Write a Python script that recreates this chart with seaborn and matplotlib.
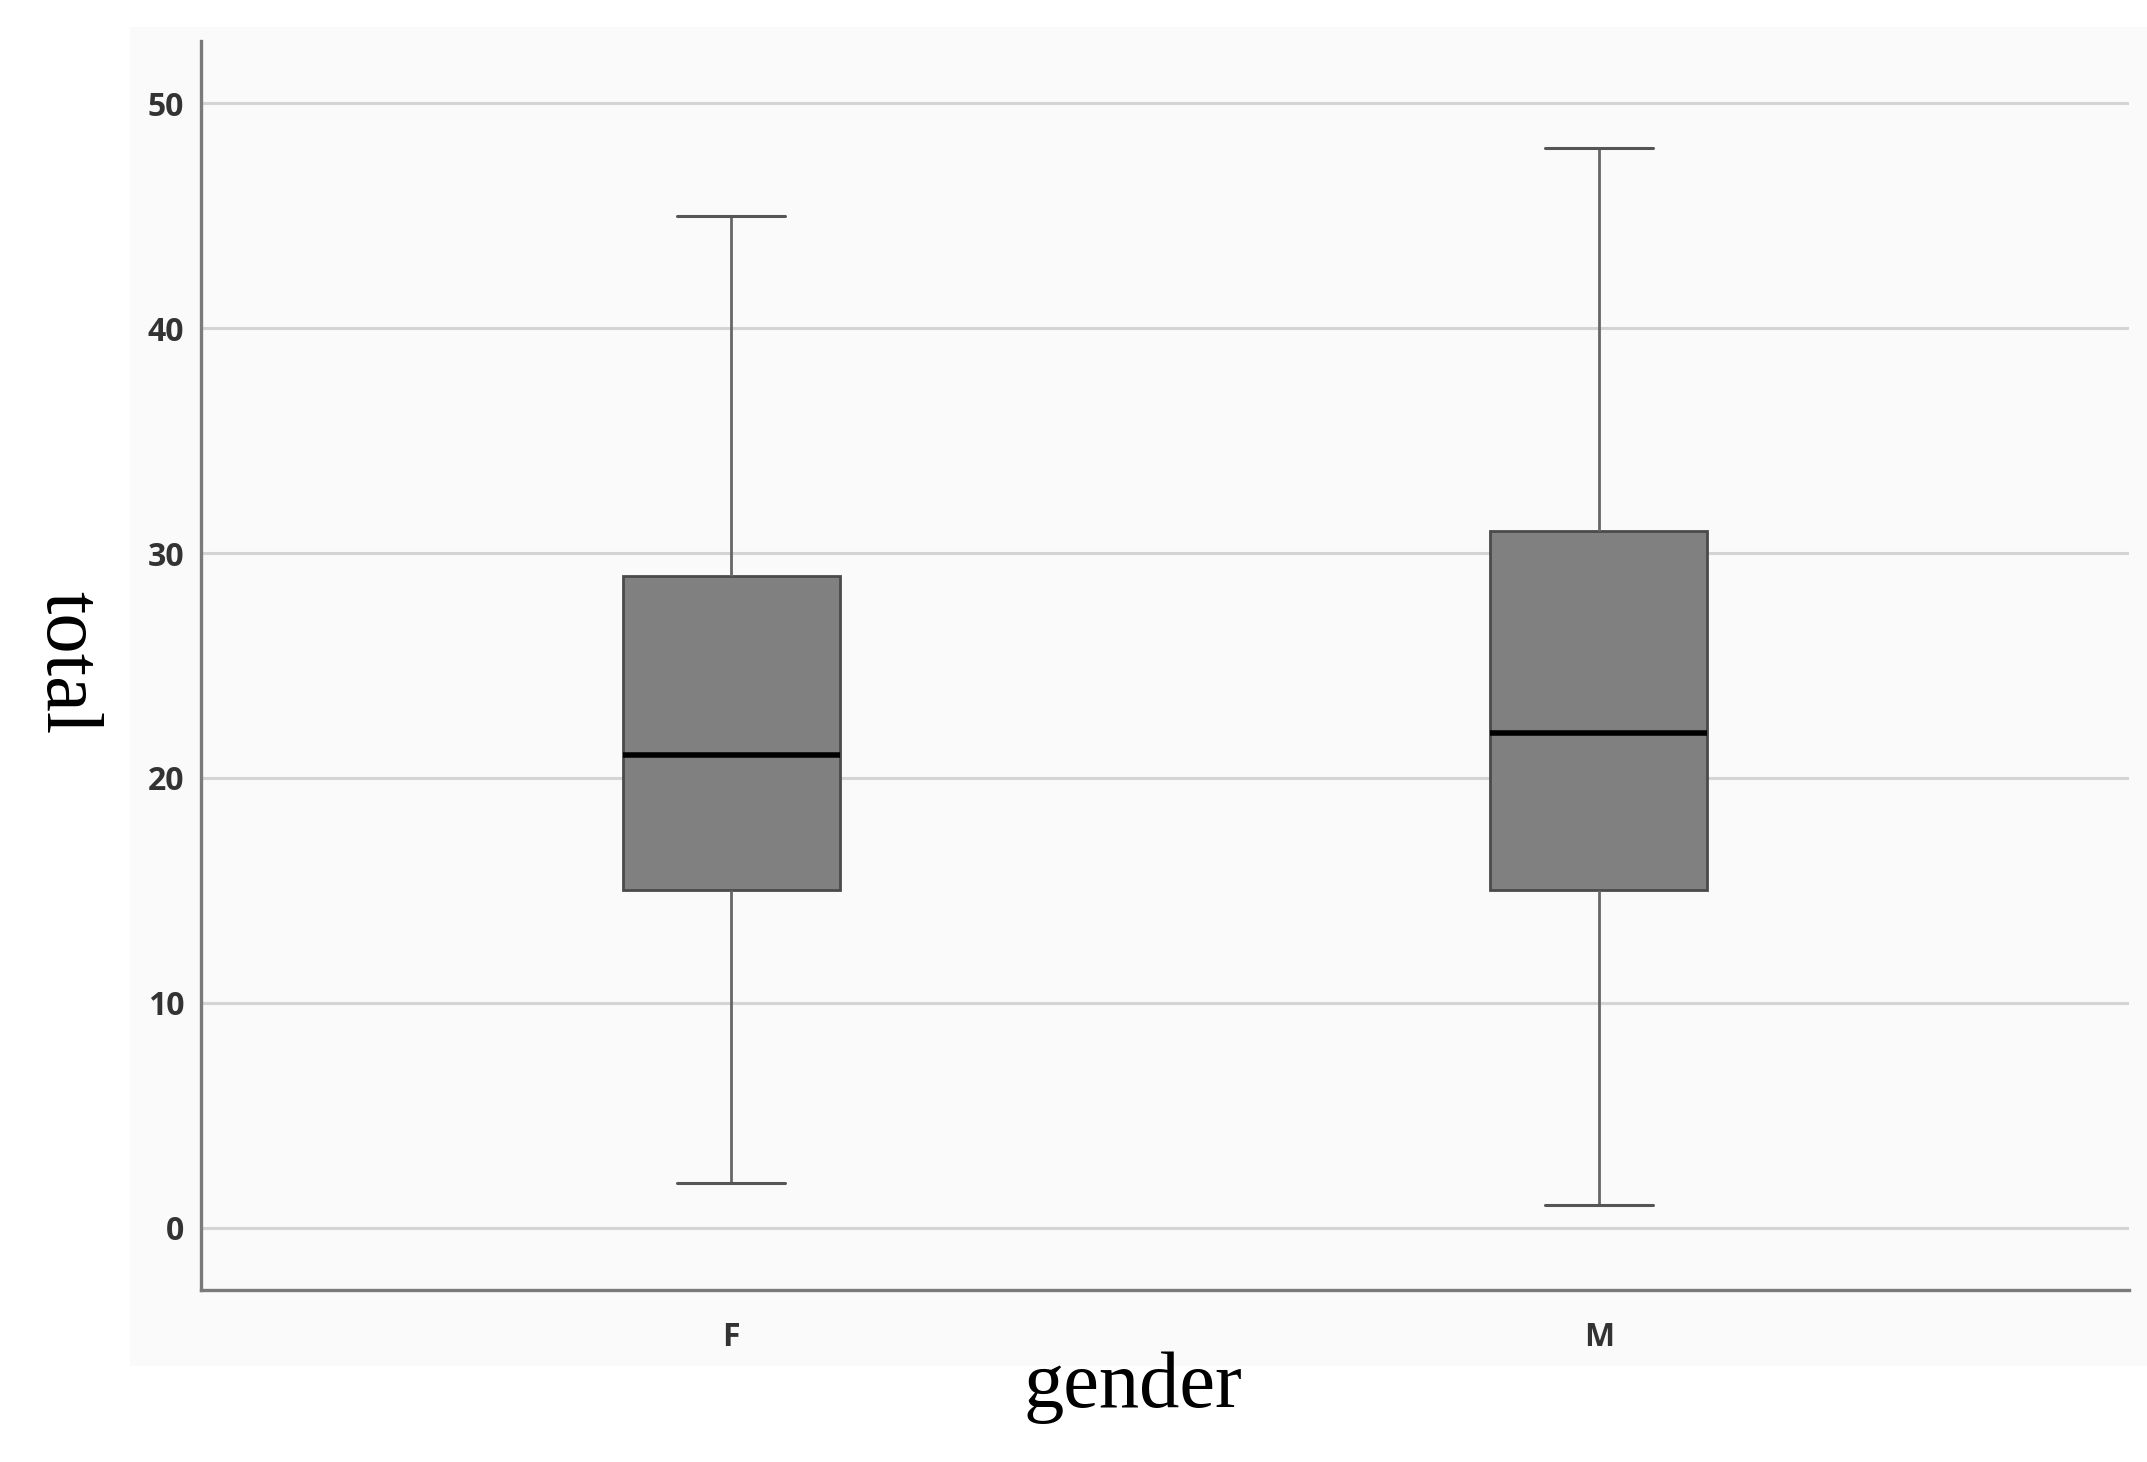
import matplotlib
matplotlib.use("Agg")
import matplotlib.pyplot as plt
import seaborn as sns
import pandas as pd
from matplotlib.patches import Rectangle

# Data: five-number summaries (min, Q1, median, Q3, max)
genders = ["F", "M"]
total_F = [2, 15, 21, 29, 45]
total_M = [1, 15, 22, 31, 48]
y_ticks = [0, 10, 20, 30, 40, 50]

df = pd.DataFrame({
    "gender": ["F"] * len(total_F) + ["M"] * len(total_M),
    "total": total_F + total_M,
})

sns.set_style("white")

W, H = 2147, 1462
fig = plt.figure(figsize=(W / 100, H / 100), dpi=100)
fig.patch.set_facecolor("white")
# light panel behind the chart
panel = Rectangle((130 / W, 1 - 1366 / H), (W - 130) / W, (1366 - 27) / H,
                  transform=fig.transFigure, facecolor="#fafafa",
                  edgecolor="none", zorder=-10)
fig.add_artist(panel)

ax = fig.add_axes([201 / W, 1 - 1290 / H, (2129 - 201) / W, (1290 - 41) / H])
ax.set_zorder(1)
ax.set_facecolor("#fafafa")

sns.boxplot(data=df, x="gender", y="total", order=genders, ax=ax,
            color="#808080", saturation=1, width=0.25, linecolor="#4a4a4a",
            linewidth=2.0, whis=1.5,
            medianprops=dict(color="black", linewidth=4.0),
            whiskerprops=dict(color="#666666", linewidth=2.0),
            capprops=dict(color="#555555", linewidth=2.2),
            boxprops=dict(edgecolor="#4a4a4a", linewidth=2.0))

ax.set_ylim(-2.76, 52.76)
ax.set_xlim(-0.611, 1.611)
ax.set_yticks(y_ticks)
ax.yaxis.grid(True, color="#d4d4d4", linewidth=2.2, zorder=0)
ax.set_axisbelow(True)
for s in ["top", "right"]:
    ax.spines[s].set_visible(False)
for s in ["left", "bottom"]:
    ax.spines[s].set_color("#7a7a7a")
    ax.spines[s].set_linewidth(2.4)

ax.tick_params(axis="both", length=0, labelsize=23, colors="#333333")
ax.tick_params(axis="y", pad=12)
ax.tick_params(axis="x", pad=22)
for lab in ax.get_xticklabels() + ax.get_yticklabels():
    lab.set_fontfamily("Open Sans")
    lab.set_fontweight("bold")

ax.set_xlabel("")
ax.set_ylabel("")
fig.text(1133 / W, 1 - 1387 / H, "gender", family="Liberation Serif", fontsize=58,
         ha="center", va="center", color="black", zorder=5)
fig.text(66 / W, 1 - 663 / H, "total", family="Liberation Serif", fontsize=58,
         ha="center", va="center", rotation=-90, color="black", zorder=5)

fig.savefig("out.png", dpi=100, facecolor="white")
